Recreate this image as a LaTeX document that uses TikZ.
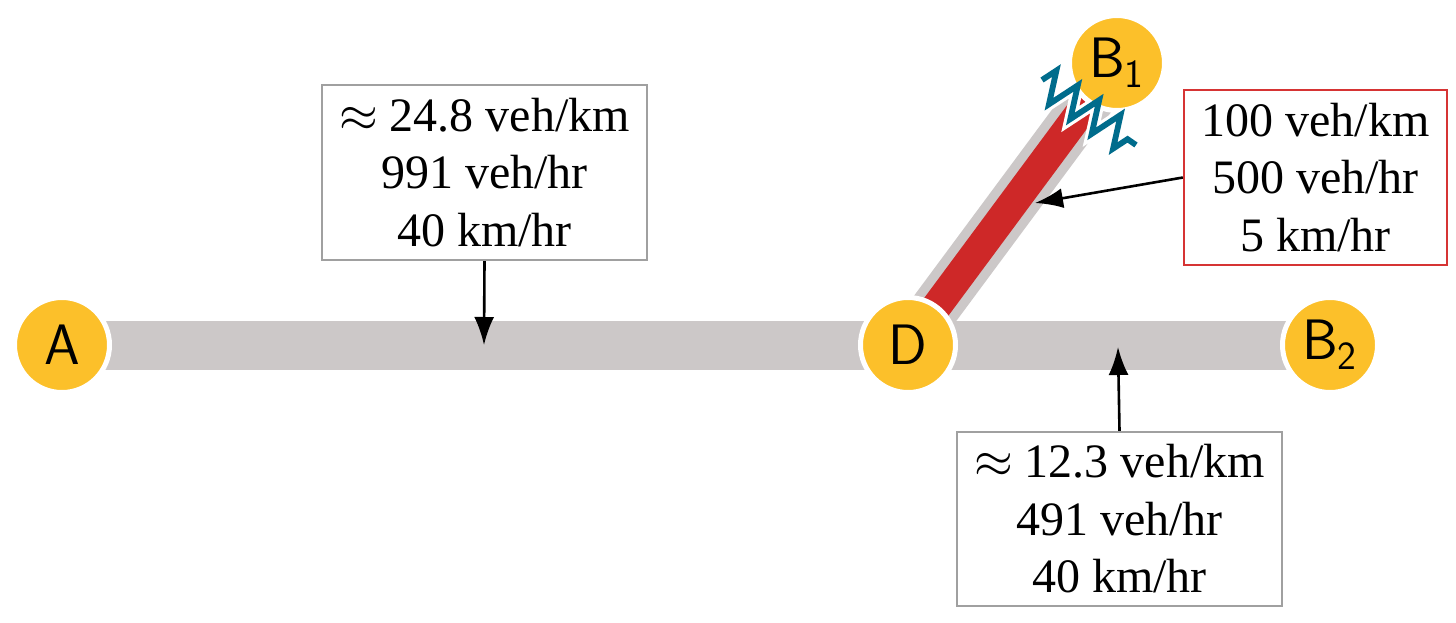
\documentclass[tikz,border=0pt]{standalone}
\usepackage{fontspec}
\setmainfont{Liberation Serif}
\usetikzlibrary{arrows.meta,decorations.pathmorphing}
\definecolor{nodeyellow}{RGB}{252,192,42}
\definecolor{roadgray}{RGB}{204,200,200}
\definecolor{jamred}{RGB}{206,40,40}
\definecolor{zigblue}{RGB}{0,108,140}
\definecolor{boxgray}{RGB}{160,160,160}
\definecolor{boxred}{RGB}{214,52,52}
\begin{document}
\begin{tikzpicture}[x=0.5pt,y=-0.5pt,
  road/.style={line width=24.5pt, roadgray},
  jam/.style={line width=15pt, jamred},
  place/.style={circle, fill=nodeyellow, draw=white, line width=2.5pt, minimum size=47.5pt, inner sep=0pt, font=\sffamily\fontsize{28.5}{32}\selectfont},
  info/.style={draw=boxgray, line width=1.2pt, fill=white, align=center, inner sep=0pt, font=\fontsize{24}{28.75}\selectfont},
  arr/.style={line width=1.3pt, -{Latex[length=14pt,width=10pt]}},
  zig/.style={decorate, decoration={zigzag, segment length=13pt, amplitude=8pt}}]
\useasboundingbox (0,0) rectangle (1456,622);
% positions
\coordinate (pA) at (62,345);
\coordinate (pD) at (908,345);
\coordinate (pB2) at (1330,345);
\coordinate (pB1) at (1117,63);
\coordinate (z1) at (1042,80);
\coordinate (z2) at (1136,145);
\coordinate (r1) at (484,345);
\coordinate (r2) at (1035,203);
\coordinate (r3) at (1118,347);
% roads
\draw[road] (pA) -- (pD);
\draw[road] (pD) -- (pB2);
\draw[road] (pD) -- (pB1);
\draw[jam] (pD) -- (pB1);
% white gap of the blockage over the road
\draw[white, line width=6pt, zig] (z1) -- (z2);
% places
\node[place] (A) at (pA) {A};
\node[place] (D) at (pD) {D};
\node[place] (B2) at (pB2) {B$_{\mathsf{2}}$};
\node[place] (B1) at (pB1) {B$_{\mathsf{1}}$};
% blockage
\draw[zigblue, line width=2.9pt, zig] (z1) -- (z2);
% info boxes
\node[info, minimum width=162.5pt, minimum height=87.5pt] (box1) at (484.5,172.5) {$\approx$ 24.8 veh/km\\991 veh/hr\\40 km/hr};
\node[info, draw=boxred, minimum width=131.5pt, minimum height=87.5pt] (box2) at (1315.5,177.5) {100 veh/km\\500 veh/hr\\5 km/hr};
\node[info, minimum width=162.5pt, minimum height=87pt] (box3) at (1119.5,519) {$\approx$ 12.3 veh/km\\491 veh/hr\\40 km/hr};
% arrows
\draw[arr] (box1.south) -- (r1);
\draw[arr] (box2.west) -- (r2);
\draw[arr] (box3.north) -- (r3);
\end{tikzpicture}
\end{document}
